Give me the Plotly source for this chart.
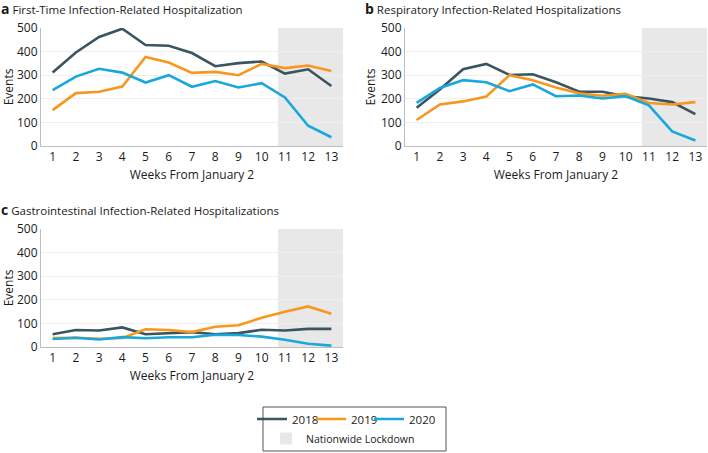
import plotly.graph_objects as go

weeks = list(range(1, 14))
week_labels = [str(w) for w in weeks]
years = ["2018", "2019", "2020"]
colors = {"2018": "#3b5462", "2019": "#f7971e", "2020": "#18a8dc"}

first_time = {
    "2018": [311, 396, 462, 497, 428, 425, 394, 338, 351, 358, 307, 325, 254],
    "2019": [152, 224, 230, 252, 377, 354, 310, 314, 300, 348, 330, 341, 318],
    "2020": [237, 294, 327, 311, 269, 300, 251, 275, 248, 266, 206, 86, 37],
}
respiratory = {
    "2018": [162, 239, 325, 348, 301, 304, 270, 230, 230, 211, 201, 186, 135],
    "2019": [110, 176, 189, 210, 300, 279, 248, 223, 213, 221, 182, 176, 186],
    "2020": [183, 246, 279, 270, 232, 261, 211, 214, 201, 211, 172, 62, 23],
}
gastro = {
    "2018": [54, 72, 70, 83, 54, 58, 63, 54, 59, 73, 70, 77, 77],
    "2019": [38, 39, 35, 38, 75, 72, 63, 86, 92, 124, 149, 172, 141],
    "2020": [34, 39, 32, 42, 37, 41, 41, 52, 51, 44, 31, 14, 6],
}
panel_letters = ["a", "b", "c"]
panel_titles = [
    "First-Time Infection-Related Hospitalization",
    "Respiratory Infection-Related Hospitalizations",
    "Gastrointestinal Infection-Related Hospitalizations",
]
lockdown_start = 10.7
lockdown_end = 13.5

W, H = 708, 453
FONT = "Open Sans"
TXT = "#1a1a1a"

def px_x(a, b):
    return [a / W, b / W]

def px_y(top, bottom):
    return [1 - bottom / H, 1 - top / H]

panels = [
    (first_time, px_x(41, 343), px_y(28, 146), "x", "y"),
    (respiratory, px_x(405, 707), px_y(28, 146), "x2", "y2"),
    (gastro, px_x(41, 343), px_y(229, 347), "x3", "y3"),
]

year_legends = {"2018": ("legend", 252), "2019": ("legend3", 311), "2020": ("legend4", 369)}

fig = go.Figure()
layout = dict(
    width=W, height=H,
    margin=dict(l=0, r=0, t=0, b=0),
    paper_bgcolor="white", plot_bgcolor="white",
    font=dict(family=FONT, size=11, color=TXT),
    shapes=[], annotations=[],
)

for i, (data, xd, yd, xr, yr) in enumerate(panels):
    for yname in years:
        fig.add_trace(go.Scatter(
            x=weeks, y=data[yname], mode="lines", name=yname,
            line=dict(color=colors[yname], width=2.6),
            xaxis=xr, yaxis=yr, showlegend=(i == 0), legend=year_legends[yname][0],
            hoverinfo="skip",
        ))
    sfx = "" if i == 0 else str(i + 1)
    layout["xaxis" + sfx] = dict(
        domain=xd, anchor=yr, range=[0.5, 13.5], tickmode="array",
        tickvals=weeks, ticktext=week_labels, showgrid=False, zeroline=False,
        showline=True, linecolor="#bdbdbd", linewidth=1, ticks="",
        tickfont=dict(size=12, color=TXT), automargin=False,
        title=dict(text="Weeks From January 2", font=dict(size=12, color=TXT), standoff=6),
    )
    layout["yaxis" + sfx] = dict(
        domain=yd, anchor=xr, range=[0, 500], tickvals=[0, 100, 200, 300, 400, 500],
        showgrid=True, gridcolor="#efefef", gridwidth=1, zeroline=False,
        showline=True, linecolor="#bdbdbd", linewidth=1, ticks="",
        tickfont=dict(size=12, color=TXT), automargin=False,
        title=dict(text="Events", font=dict(size=12, color=TXT), standoff=2),
    )
    layout["shapes"].append(dict(
        type="rect", xref=xr, yref=yr + " domain", x0=lockdown_start, x1=lockdown_end,
        y0=0, y1=1, fillcolor="#e8e8e8", line=dict(width=0), layer="below",
    ))
    tx = 0 if i != 1 else 364 / W
    ty = 1 - 9 / H if i != 2 else 1 - 210 / H
    layout["annotations"].append(dict(
        text="<b><span style='font-size:14px'>" + panel_letters[i] + "</span></b> " + panel_titles[i],
        x=tx, y=ty, xref="paper", yref="paper", xanchor="left", yanchor="middle",
        showarrow=False, font=dict(size=11.5, color=TXT, family=FONT), borderpad=0,
    ))

fig.add_trace(go.Scatter(
    x=[None], y=[None], mode="markers", name="Nationwide Lockdown",
    marker=dict(symbol="square", size=12, color="#e8e8e8"),
    legend="legend2", showlegend=True, hoverinfo="skip",
))

for yname in years:
    lname, lx = year_legends[yname]
    layout[lname] = dict(
        orientation="h", x=lx / W, y=1 - 419 / H, xanchor="left", yanchor="middle",
        bgcolor="rgba(0,0,0,0)", font=dict(size=11.5, color=TXT), itemwidth=30,
    )
layout["legend2"] = dict(
    orientation="h", x=266 / W, y=1 - 438.5 / H, xanchor="left", yanchor="middle",
    bgcolor="rgba(0,0,0,0)", font=dict(size=10.5, color=TXT), itemwidth=30,
)
layout["shapes"].append(dict(
    type="rect", xref="paper", yref="paper", x0=263 / W, x1=446 / W,
    y0=1 - 451 / H, y1=1 - 407 / H, line=dict(color="#555555", width=1),
    fillcolor="rgba(0,0,0,0)",
))

fig.update_layout(**layout)
fig.write_html(
    "out.html",
    config={"displayModeBar": False},
    post_script="document.body.style.margin='0';document.body.style.overflow='hidden';",
)
